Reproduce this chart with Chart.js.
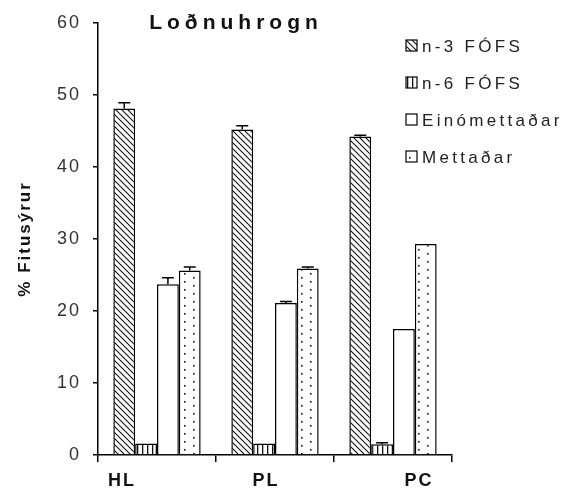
<!DOCTYPE html>
<html><head><meta charset="utf-8">
<script src="https://cdn.jsdelivr.net/npm/chart.js@4/dist/chart.umd.min.js"></script>
<style>html,body{margin:0;padding:0;background:#fff}#wrap{width:570px;height:491px}</style>
</head><body><div id="wrap"><canvas id="c" width="570" height="491"></canvas></div>
<script>
const categories = ['HL', 'PL', 'PC'];
const seriesNames = ['n-3 FÓFS', 'n-6 FÓFS', 'Einómettaðar', 'Mettaðar'];
const n3 = [48.1, 45.2, 44.2];
const n6 = [1.6, 1.6, 1.5];
const eino = [23.7, 21.1, 17.5];
const mett = [25.6, 25.9, 29.3];
const n3Err = [0.8, 0.5, 0.2];
const n6Err = [0, 0, 0.2];
const einoErr = [0.9, 0.2, 0];
const mettErr = [0.5, 0.2, 0];
const yTicks = [0, 10, 20, 30, 40, 50, 60];
const chartTitle = 'Loðnuhrogn';
const yTitle = '% Fitusýrur';

const FONT = '"Liberation Sans", Arial, sans-serif';
const labelShift = [-36, -10, 25];

function makePattern(kind) {
  let w = 6, h = 6;
  if (kind === 'dots') { w = 18; h = 8; }
  if (kind === 'vert') { w = 5; h = 5; }
  const c = document.createElement('canvas');
  c.width = w; c.height = h;
  const g = c.getContext('2d');
  g.fillStyle = '#fff'; g.fillRect(0, 0, w, h);
  g.strokeStyle = '#111'; g.fillStyle = '#111'; g.lineWidth = 1.1;
  if (kind === 'diag') {
    g.beginPath();
    g.moveTo(-1, -1); g.lineTo(w + 1, h + 1);
    g.moveTo(-1 - w, -1); g.lineTo(1, h + 1);
    g.moveTo(w - 1, -1); g.lineTo(2 * w + 1, h + 1);
    g.stroke();
  } else if (kind === 'vert') {
    g.fillRect(2, 0, 1.3, h);
  } else if (kind === 'dots') {
    g.fillRect(4, 1, 1.6, 1.6);
    g.fillRect(13, 5, 1.6, 1.6);
  }
  return g.createPattern(c, 'repeat');
}
const fills = [makePattern('diag'), makePattern('vert'), '#ffffff', makePattern('dots')];
const values = [n3, n6, eino, mett];
const errs = [n3Err, n6Err, einoErr, mettErr];

const spacing = {
  id: 'spacing',
  beforeDraw(chart) { chart.ctx.letterSpacing = '2px'; }
};

const errorBars = {
  id: 'errorBars',
  afterDatasetsDraw(chart) {
    const ctx = chart.ctx, y = chart.scales.y;
    ctx.save();
    ctx.strokeStyle = '#000'; ctx.lineWidth = 1.5;
    chart.data.datasets.forEach((ds, di) => {
      const meta = chart.getDatasetMeta(di);
      meta.data.forEach((bar, i) => {
        const e = errs[di][i];
        if (!e) return;
        const y0 = y.getPixelForValue(ds.data[i]);
        const y1 = y.getPixelForValue(ds.data[i] + e);
        ctx.beginPath();
        ctx.moveTo(bar.x, y0); ctx.lineTo(bar.x, y1);
        ctx.moveTo(bar.x - 6, y1); ctx.lineTo(bar.x + 6, y1);
        ctx.stroke();
      });
    });
    ctx.restore();
  }
};

const extras = {
  id: 'extras',
  afterDraw(chart) {
    const ctx = chart.ctx;
    const x = chart.scales.x;
    ctx.save();
    // title
    ctx.fillStyle = '#111';
    ctx.font = 'bold 21px ' + FONT;
    ctx.letterSpacing = '5px';
    ctx.textAlign = 'center'; ctx.textBaseline = 'middle';
    ctx.fillText(chartTitle, 236, 23);
    // x category labels
    ctx.letterSpacing = '2px';
    ctx.font = 'bold 18px ' + FONT;
    categories.forEach((c, i) => {
      ctx.fillText(c, x.getPixelForValue(i) + labelShift[i] + 1, 481);
    });
    // legend
    const rows = [46, 83, 120, 157];
    ctx.font = '17px ' + FONT;
    ctx.letterSpacing = '3.3px';
    ctx.textAlign = 'left';
    chart.data.datasets.forEach((ds, i) => {
      const yy = rows[i];
      ctx.fillStyle = ds.backgroundColor;
      ctx.fillRect(406, yy - 6, 11, 11);
      ctx.strokeStyle = '#000'; ctx.lineWidth = 1.2;
      ctx.strokeRect(406, yy - 6, 11, 11);
      ctx.fillStyle = '#222';
      ctx.fillText(ds.label, 422, yy + 1);
    });
    ctx.restore();
  }
};

new Chart(document.getElementById('c'), {
  type: 'bar',
  data: {
    labels: categories,
    datasets: seriesNames.map((name, i) => ({
      label: name,
      data: values[i],
      backgroundColor: fills[i],
      borderColor: '#000',
      borderWidth: 1.5,
      categoryPercentage: 0.74,
      barPercentage: 1.0
    }))
  },
  options: {
    responsive: false,
    animation: false,
    devicePixelRatio: 1,
    layout: { padding: { left: 0, right: 118, top: 22, bottom: 0 } },
    plugins: { legend: { display: false }, title: { display: false }, tooltip: { enabled: false } },
    scales: {
      y: {
        min: 0, max: 60,
        afterBuildTicks(scale) { scale.ticks = yTicks.map(v => ({ value: v })); },
        afterFit(scale) { scale.width = 98; },
        border: { color: '#000', width: 1.5 },
        grid: { drawOnChartArea: false, color: '#000', lineWidth: 1.5, tickLength: 5 },
        ticks: { color: '#333', padding: 12, font: { family: FONT, size: 18 } },
        title: { display: true, text: yTitle, color: '#111', padding: { top: 15, bottom: 0 },
          font: { family: FONT, size: 17, weight: 'bold' } }
      },
      x: {
        afterFit(scale) { scale.height = 36; },
        border: { color: '#000', width: 1.5 },
        grid: { drawOnChartArea: false, color: '#000', lineWidth: 1.5, tickLength: 7, offset: true },
        ticks: { display: false }
      }
    }
  },
  plugins: [spacing, errorBars, extras]
});
</script>
</body></html>
